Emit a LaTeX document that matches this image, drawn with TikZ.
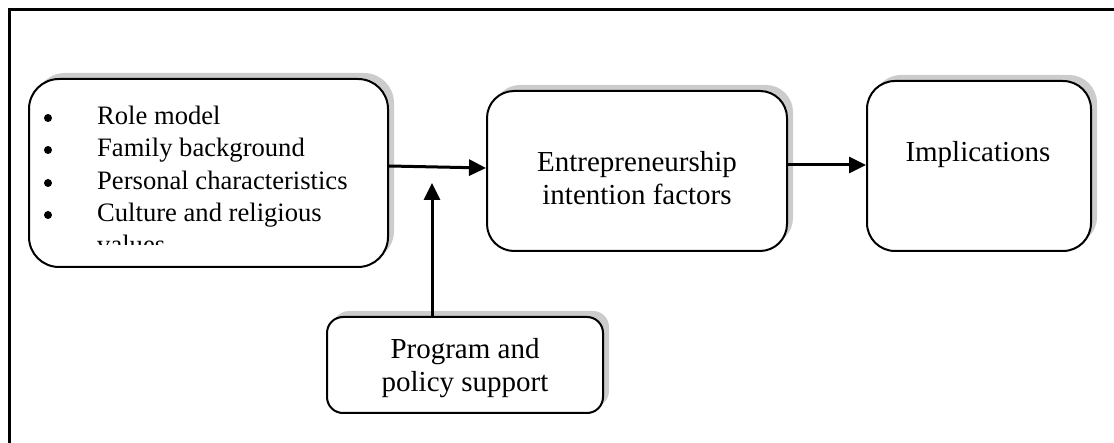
\documentclass[tikz,border=0pt]{standalone}
\usepackage{fontspec}
\setmainfont{Liberation Serif}
\usetikzlibrary{arrows.meta,shadows}
\begin{document}
\begin{tikzpicture}[x=1pt,y=-1pt,
  box/.style={draw=black, line width=2pt, fill=white, rectangle, inner sep=0pt,
    general shadow={shadow xshift=6pt, shadow yshift=6pt, fill=black!20}},
  flow/.style={line width=3pt, -{Triangle[length=17pt,width=16pt]}},
  dot/.style={circle, fill=black, inner sep=0pt, minimum size=8pt},
  big/.style={font=\fontsize{29}{33}\selectfont, inner sep=0pt},
  small/.style={font=\fontsize{26.6}{32}\selectfont, inner sep=0pt}
]
\useasboundingbox (0,0) rectangle (1114,443);
% page frame (top and left edges)
\draw[line width=3pt] (1114,9.5) -- (9.5,9.5) -- (9.5,443);

% boxes
\node[box, minimum width=359pt, minimum height=188pt, rounded corners=30pt] (L) at (208.5,173) {};
\node[box, minimum width=300pt, minimum height=160pt, rounded corners=27pt] (M) at (637,171) {};
\node[box, minimum width=224pt, minimum height=170pt, rounded corners=28pt] (I) at (979,166) {};
\node[box, minimum width=276pt, minimum height=96pt, rounded corners=16pt] (P) at (465,365) {};

% list of antecedents, cut off by the text area of the box
\begin{scope}
  \clip (29,79) rectangle (388,245);
  \node[dot] (b1) at (48,118) {};
  \node[dot] (b2) at (48,150) {};
  \node[dot] (b3) at (48,183) {};
  \node[dot] (b4) at (48,215) {};
  \node[small, anchor=base west] (t1) at (97,125) {Role model};
  \node[small, anchor=base west] (t2) at (97,157) {Family background};
  \node[small, anchor=base west] (t3) at (97,190) {Personal characteristics};
  \node[small, anchor=base west] (t4) at (97,222) {Culture and religious};
  \node[small, anchor=base west] (t5) at (97,254) {values};
\end{scope}

% box labels
\node[big, anchor=base] (m1) at (637,172) {Entrepreneurship};
\node[big, anchor=base] (m2) at (637,205) {intention factors};
\node[big, anchor=base] (i1) at (978,162) {Implications};
\node[big, anchor=base] (p1) at (465,359) {Program and};
\node[big, anchor=base] (p2) at (465,392) {policy support};

% connectors
\coordinate (join) at (432,183);
\draw[flow] ([yshift=7pt]L.east) -- ([yshift=3pt]M.west);
\draw[flow] ([yshift=6pt]M.east) -- ([yshift=1pt]I.west);
\draw[flow] ([xshift=-33pt]P.north) -- (join);
\end{tikzpicture}
\end{document}
